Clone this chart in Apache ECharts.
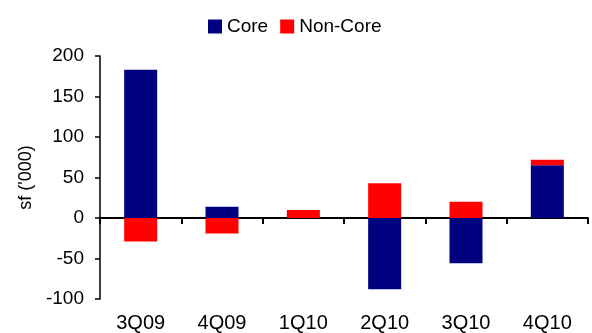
<!DOCTYPE html>
<html>
<head>
<meta charset="utf-8">
<script src="https://cdn.jsdelivr.net/npm/echarts@6/dist/echarts.min.js"></script>
<style>
  html, body { margin: 0; padding: 0; background: #fff; }
  #chart { width: 592px; height: 333px; }
</style>
</head>
<body>
<div id="chart"></div>
<script>
// Quarterly change in space, split into core and non-core portfolios
const quarters = ['3Q09', '4Q09', '1Q10', '2Q10', '3Q10', '4Q10'];
const coreValues = [183, 14, 0, -88, -56, 65];
const nonCoreValues = [-29, -19, 10, 43, 20, 7];
const yTicks = { min: -100, max: 200, interval: 50 };

const FONT = '"Liberation Sans", Arial, sans-serif';

const chart = echarts.init(document.getElementById('chart'), null, { renderer: 'canvas' });

chart.setOption({
  animation: false,
  backgroundColor: '#ffffff',
  textStyle: { fontFamily: FONT },
  legend: {
    data: ['Core', 'Non-Core'],
    left: 203,
    top: 12,
    itemWidth: 14,
    itemHeight: 14,
    itemGap: 12,
    icon: 'rect',
    textStyle: { fontFamily: FONT, fontSize: 19, color: '#000' }
  },
  grid: { left: 100, right: 4, top: 56, bottom: 33 },
  xAxis: [
    {
      // zero baseline with category separators
      type: 'category',
      data: quarters,
      axisLine: { onZero: true, lineStyle: { color: '#000', width: 2 } },
      axisTick: { show: true, length: 6, lineStyle: { color: '#000', width: 2 } },
      axisLabel: { show: false },
      splitLine: { show: false }
    },
    {
      // quarter labels along the bottom edge
      type: 'category',
      data: quarters,
      position: 'bottom',
      axisLine: { show: false, onZero: false },
      axisTick: { show: false },
      axisLabel: { fontFamily: FONT, fontSize: 20, color: '#000', margin: 14 },
      splitLine: { show: false }
    }
  ],
  yAxis: {
    type: 'value',
    min: yTicks.min,
    max: yTicks.max,
    interval: yTicks.interval,
    name: "sf ('000)",
    nameLocation: 'middle',
    nameRotate: 90,
    nameGap: 64,
    nameTextStyle: { fontFamily: FONT, fontSize: 18, color: '#000' },
    axisLine: { show: true, lineStyle: { color: '#000', width: 1.5 } },
    axisTick: { show: true, length: 5, lineStyle: { color: '#000', width: 1.5 } },
    axisLabel: { fontFamily: FONT, fontSize: 19, color: '#000', margin: 16 },
    splitLine: { show: false }
  },
  series: [
    {
      name: 'Core',
      type: 'bar',
      stack: 'total',
      xAxisIndex: 0,
      data: coreValues,
      barWidth: 33,
      itemStyle: { color: '#000080' }
    },
    {
      name: 'Non-Core',
      type: 'bar',
      stack: 'total',
      xAxisIndex: 0,
      data: nonCoreValues,
      barWidth: 33,
      itemStyle: { color: '#ff0000' }
    }
  ]
});
</script>
</body>
</html>
